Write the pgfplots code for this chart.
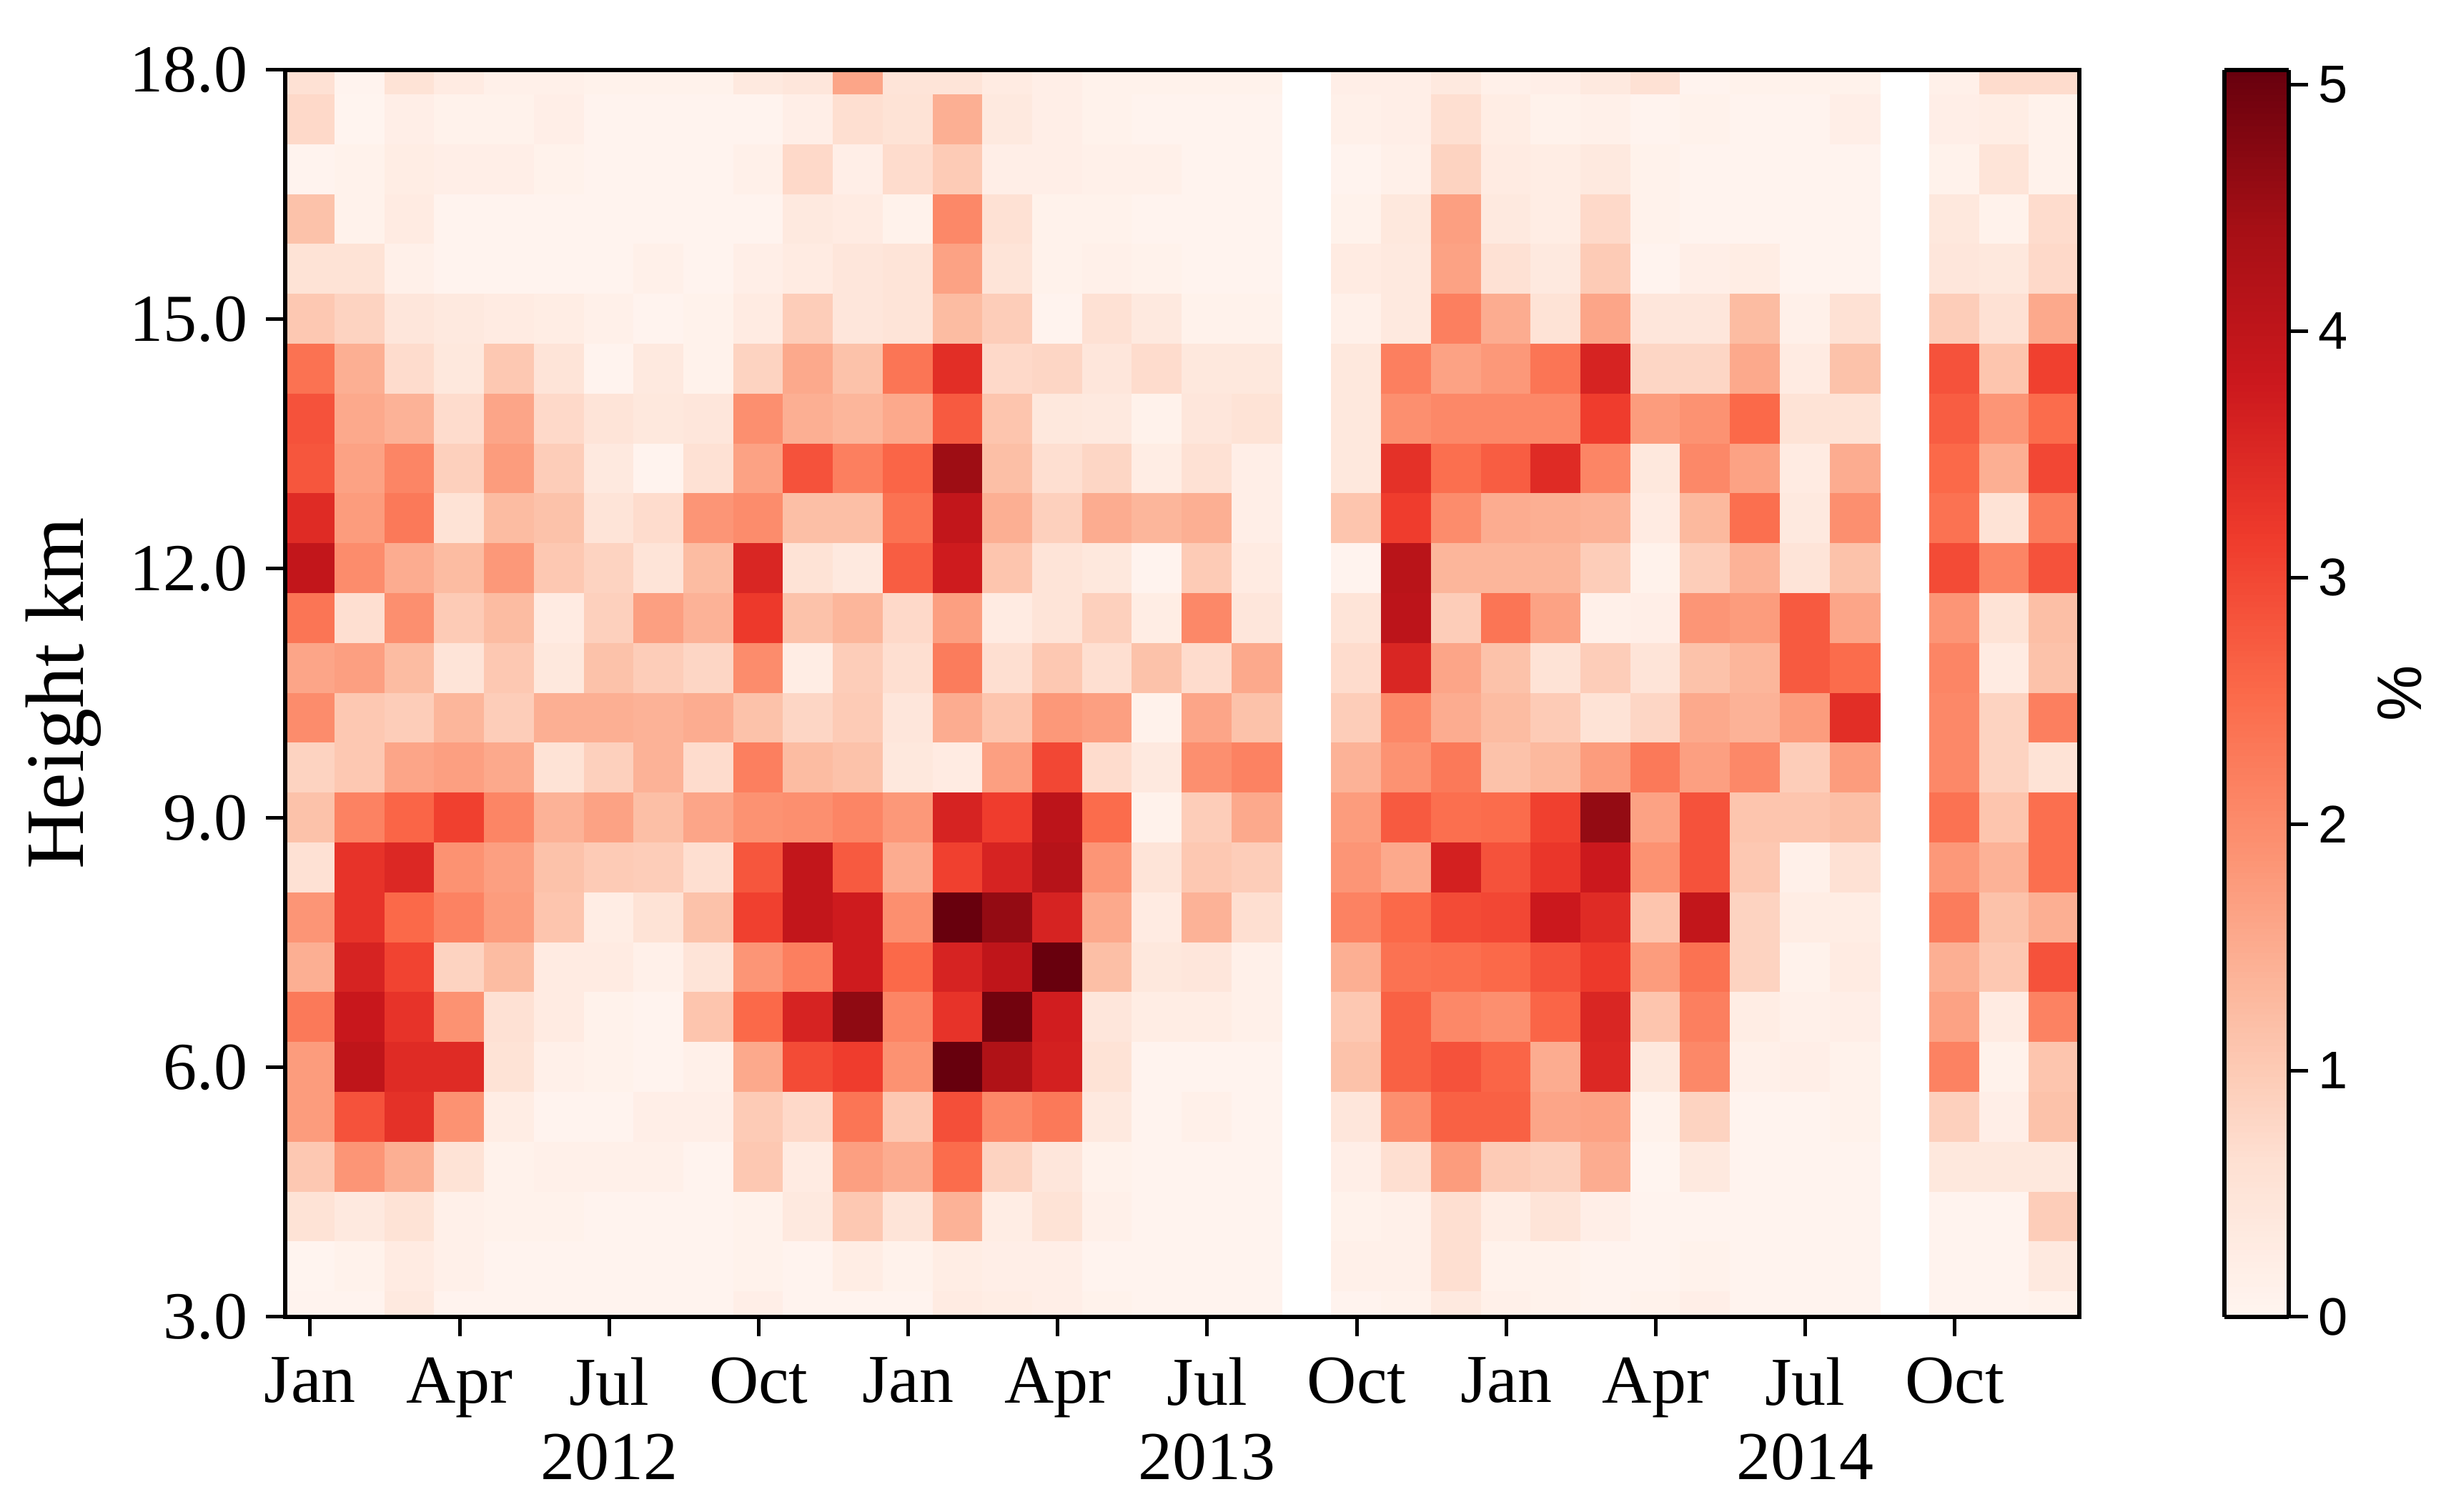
\documentclass[border=0pt]{standalone}
\usepackage{fontspec}
\usepackage{pgfplots}
\pgfplotsset{compat=1.18}
\setmainfont{Liberation Serif}
\newfontfamily\sansf{Liberation Sans}
\begin{document}
\begin{tikzpicture}
\useasboundingbox (-99.75pt,-68.25pt) rectangle (755.75pt,460.75pt);
\begin{axis}[
  at={(0pt,0pt)},anchor=south west,
  scale only axis,width=627.5pt,height=436.25pt,
  xmin=-0.5,xmax=35.5,ymin=3,ymax=18,
  axis on top,axis line style={line width=1.4pt,black},
  tick align=outside,xtick pos=bottom,ytick pos=left,
  major tick length=6.7pt,tick style={line width=1.25pt,black},
  xtick={0,3,...,33},
  xticklabels={Jan,Apr,{Jul\\2012},Oct,Jan,Apr,{Jul\\2013},Oct,Jan,Apr,{Jul\\2014},Oct},
  xticklabel style={font=\fontsize{24}{26}\selectfont,align=center,anchor=north,yshift=-4pt},
  ytick={3,6,...,18},
  yticklabel style={font=\fontsize{23.5}{27}\selectfont,xshift=-3pt,
    /pgf/number format/assume math mode=true,
    /pgf/number format/fixed,/pgf/number format/fixed zerofill,/pgf/number format/precision=1},
  ylabel={Height km},
  ylabel style={font=\fontsize{29}{32}\selectfont,at={(axis description cs:-0.1235,0.5)},anchor=center},
  point meta min=0,point meta max=5.06,
  colormap={reds}{rgb255=(255,245,240) rgb255=(254,224,210) rgb255=(252,187,161) rgb255=(252,146,114) rgb255=(251,106,74) rgb255=(239,59,44) rgb255=(203,24,29) rgb255=(165,15,21) rgb255=(103,0,13)},
  colorbar sampled,
  colorbar style={
    samples=203,
    at={(1.0809,1)},anchor=north west,width=22.5pt,
    ytick={0,1,2,3,4,5},
    tick align=outside,ytick pos=right,yticklabel pos=right,
    axis line style={line width=1.4pt,black},
    tick style={line width=1.25pt,black},major tick length=6.7pt,
    yticklabel style={font=\sansf\fontsize{18.5}{20}\selectfont,/pgf/number format/assume math mode=true},
    ylabel={\sansf\fontsize{22}{24}\selectfont\%},
    ylabel style={at={(axis description cs:2.72,0.5)},anchor=center},
  },
]
\addplot[matrix plot*,mesh/cols=20,point meta=explicit] coordinates {
(0,18)[.6] (1,18)[.05] (2,18)[.55] (3,18)[.3] (4,18)[.15] (5,18)[.15] (6,18)[.1] (7,18)[.1] (8,18)[.1] (9,18)[.35] (10,18)[.45] (11,18)[1.6] (12,18)[.5] (13,18)[.5] (14,18)[.3] (15,18)[.2] (16,18)[.1] (17,18)[.1] (18,18)[.1] (19,18)[.1]
(0,17.4)[.75] (1,17.4)[.03] (2,17.4)[.2] (3,17.4)[.1] (4,17.4)[.1] (5,17.4)[.2] (6,17.4)[.05] (7,17.4)[.05] (8,17.4)[.05] (9,17.4)[.05] (10,17.4)[.2] (11,17.4)[.65] (12,17.4)[.55] (13,17.4)[1.45] (14,17.4)[.35] (15,17.4)[.2] (16,17.4)[.1] (17,17.4)[.05] (18,17.4)[.05] (19,17.4)[.05]
(0,16.8)[.05] (1,16.8)[.1] (2,16.8)[.25] (3,16.8)[.2] (4,16.8)[.2] (5,16.8)[.1] (6,16.8)[.05] (7,16.8)[.05] (8,16.8)[.05] (9,16.8)[.15] (10,16.8)[.75] (11,16.8)[.2] (12,16.8)[.7] (13,16.8)[1] (14,16.8)[.2] (15,16.8)[.2] (16,16.8)[.15] (17,16.8)[.15] (18,16.8)[.05] (19,16.8)[.05]
(0,16.2)[1.15] (1,16.2)[.1] (2,16.2)[.3] (3,16.2)[.05] (4,16.2)[.05] (5,16.2)[.05] (6,16.2)[.05] (7,16.2)[.05] (8,16.2)[.05] (9,16.2)[.05] (10,16.2)[.35] (11,16.2)[.3] (12,16.2)[.1] (13,16.2)[2.05] (14,16.2)[.6] (15,16.2)[.1] (16,16.2)[.1] (17,16.2)[.05] (18,16.2)[.05] (19,16.2)[.05]
(0,15.6)[.55] (1,15.6)[.55] (2,15.6)[.15] (3,15.6)[.05] (4,15.6)[.05] (5,15.6)[.05] (6,15.6)[.05] (7,15.6)[.15] (8,15.6)[.05] (9,15.6)[.2] (10,15.6)[.3] (11,15.6)[.45] (12,15.6)[.5] (13,15.6)[1.65] (14,15.6)[.5] (15,15.6)[.1] (16,15.6)[.15] (17,15.6)[.1] (18,15.6)[.05] (19,15.6)[.05]
(0,15)[1.05] (1,15)[.85] (2,15)[.45] (3,15)[.35] (4,15)[.3] (5,15)[.25] (6,15)[.15] (7,15)[.05] (8,15)[.1] (9,15)[.3] (10,15)[.95] (11,15)[.45] (12,15)[.5] (13,15)[1.25] (14,15)[.95] (15,15)[.05] (16,15)[.6] (17,15)[.35] (18,15)[.1] (19,15)[.1]
(0,14.4)[2.4] (1,14.4)[1.45] (2,14.4)[.7] (3,14.4)[.4] (4,14.4)[1.05] (5,14.4)[.5] (6,14.4)[.05] (7,14.4)[.35] (8,14.4)[.1] (9,14.4)[.85] (10,14.4)[1.55] (11,14.4)[1.15] (12,14.4)[2.35] (13,14.4)[3.4] (14,14.4)[.75] (15,14.4)[.8] (16,14.4)[.45] (17,14.4)[.7] (18,14.4)[.4] (19,14.4)[.4]
(0,13.8)[2.85] (1,13.8)[1.55] (2,13.8)[1.4] (3,13.8)[.7] (4,13.8)[1.6] (5,13.8)[.75] (6,13.8)[.5] (7,13.8)[.4] (8,13.8)[.45] (9,13.8)[1.95] (10,13.8)[1.45] (11,13.8)[1.35] (12,13.8)[1.55] (13,13.8)[2.75] (14,13.8)[1.1] (15,13.8)[.4] (16,13.8)[.35] (17,13.8)[.1] (18,13.8)[.45] (19,13.8)[.55]
(0,13.2)[2.8] (1,13.2)[1.65] (2,13.2)[2.1] (3,13.2)[.9] (4,13.2)[1.75] (5,13.2)[.95] (6,13.2)[.35] (7,13.2)[.05] (8,13.2)[.6] (9,13.2)[1.65] (10,13.2)[2.85] (11,13.2)[2.2] (12,13.2)[2.6] (13,13.2)[4.5] (14,13.2)[1.2] (15,13.2)[.65] (16,13.2)[.8] (17,13.2)[.25] (18,13.2)[.6] (19,13.2)[.2]
(0,12.6)[3.45] (1,12.6)[1.75] (2,12.6)[2.3] (3,12.6)[.55] (4,12.6)[1.25] (5,12.6)[1.15] (6,12.6)[.5] (7,12.6)[.7] (8,12.6)[1.85] (9,12.6)[2] (10,12.6)[1.2] (11,12.6)[1.2] (12,12.6)[2.4] (13,12.6)[3.95] (14,12.6)[1.45] (15,12.6)[.9] (16,12.6)[1.5] (17,12.6)[1.35] (18,12.6)[1.45] (19,12.6)[.2]
(0,12)[3.95] (1,12)[2] (2,12)[1.5] (3,12)[1.25] (4,12)[1.8] (5,12)[1.05] (6,12)[.85] (7,12)[.5] (8,12)[1.25] (9,12)[3.55] (10,12)[.55] (11,12)[.35] (12,12)[2.7] (13,12)[3.75] (14,12)[1.1] (15,12)[.5] (16,12)[.4] (17,12)[.05] (18,12)[1] (19,12)[.3]
(0,11.4)[2.35] (1,11.4)[.65] (2,11.4)[1.95] (3,11.4)[1] (4,11.4)[1.25] (5,11.4)[.3] (6,11.4)[.9] (7,11.4)[1.7] (8,11.4)[1.4] (9,11.4)[3.2] (10,11.4)[1.15] (11,11.4)[1.35] (12,11.4)[.75] (13,11.4)[1.7] (14,11.4)[.3] (15,11.4)[.5] (16,11.4)[.9] (17,11.4)[.25] (18,11.4)[2.05] (19,11.4)[.45]
(0,10.8)[1.6] (1,10.8)[1.7] (2,10.8)[1.25] (3,10.8)[.5] (4,10.8)[1.05] (5,10.8)[.4] (6,10.8)[1.15] (7,10.8)[.95] (8,10.8)[.8] (9,10.8)[2] (10,10.8)[.25] (11,10.8)[.95] (12,10.8)[.65] (13,10.8)[2.25] (14,10.8)[.65] (15,10.8)[1.05] (16,10.8)[.65] (17,10.8)[1.15] (18,10.8)[.7] (19,10.8)[1.55]
(0,10.2)[2] (1,10.2)[1.05] (2,10.2)[.95] (3,10.2)[1.35] (4,10.2)[.95] (5,10.2)[1.45] (6,10.2)[1.45] (7,10.2)[1.4] (8,10.2)[1.5] (9,10.2)[1.15] (10,10.2)[.8] (11,10.2)[1] (12,10.2)[.45] (13,10.2)[1.5] (14,10.2)[1.1] (15,10.2)[1.8] (16,10.2)[1.7] (17,10.2)[.1] (18,10.2)[1.6] (19,10.2)[1.15]
(0,9.6)[.85] (1,9.6)[1.05] (2,9.6)[1.6] (3,9.6)[1.7] (4,9.6)[1.55] (5,9.6)[.55] (6,9.6)[.9] (7,9.6)[1.4] (8,9.6)[.7] (9,9.6)[2.2] (10,9.6)[1.25] (11,9.6)[1.15] (12,9.6)[.4] (13,9.6)[.3] (14,9.6)[1.7] (15,9.6)[3] (16,9.6)[.7] (17,9.6)[.35] (18,9.6)[1.95] (19,9.6)[2.15]
(0,9)[1.15] (1,9)[2.15] (2,9)[2.6] (3,9)[3.1] (4,9)[2.1] (5,9)[1.4] (6,9)[1.65] (7,9)[1.2] (8,9)[1.6] (9,9)[1.9] (10,9)[1.95] (11,9)[2.1] (12,9)[1.8] (13,9)[3.6] (14,9)[3.15] (15,9)[4.05] (16,9)[2.5] (17,9)[.1] (18,9)[.95] (19,9)[1.55]
(0,8.4)[.6] (1,8.4)[3.3] (2,8.4)[3.5] (3,8.4)[1.9] (4,8.4)[1.7] (5,8.4)[1.15] (6,8.4)[1] (7,8.4)[.95] (8,8.4)[.65] (9,8.4)[2.8] (10,8.4)[3.95] (11,8.4)[2.75] (12,8.4)[1.5] (13,8.4)[3.1] (14,8.4)[3.6] (15,8.4)[4.15] (16,8.4)[1.85] (17,8.4)[.5] (18,8.4)[1.05] (19,8.4)[.95]
(0,7.8)[1.85] (1,7.8)[3.3] (2,7.8)[2.55] (3,7.8)[2.15] (4,7.8)[1.75] (5,7.8)[1.1] (6,7.8)[.25] (7,7.8)[.55] (8,7.8)[1.15] (9,7.8)[3.1] (10,7.8)[3.95] (11,7.8)[3.75] (12,7.8)[1.95] (13,7.8)[5.05] (14,7.8)[4.6] (15,7.8)[3.6] (16,7.8)[1.55] (17,7.8)[.3] (18,7.8)[1.4] (19,7.8)[.65]
(0,7.2)[1.45] (1,7.2)[3.6] (2,7.2)[3.05] (3,7.2)[.85] (4,7.2)[1.25] (5,7.2)[.3] (6,7.2)[.3] (7,7.2)[.15] (8,7.2)[.5] (9,7.2)[1.85] (10,7.2)[2.2] (11,7.2)[3.75] (12,7.2)[2.55] (13,7.2)[3.6] (14,7.2)[4] (15,7.2)[5.05] (16,7.2)[1.2] (17,7.2)[.4] (18,7.2)[.45] (19,7.2)[.15]
(0,6.6)[2.3] (1,6.6)[3.85] (2,6.6)[3.3] (3,6.6)[1.9] (4,6.6)[.6] (5,6.6)[.3] (6,6.6)[.1] (7,6.6)[.05] (8,6.6)[1.1] (9,6.6)[2.55] (10,6.6)[3.6] (11,6.6)[4.65] (12,6.6)[2.1] (13,6.6)[3.3] (14,6.6)[4.95] (15,6.6)[3.7] (16,6.6)[.45] (17,6.6)[.25] (18,6.6)[.25] (19,6.6)[.15]
(0,6)[1.75] (1,6)[4] (2,6)[3.45] (3,6)[3.45] (4,6)[.55] (5,6)[.15] (6,6)[.1] (7,6)[.05] (8,6)[.15] (9,6)[1.55] (10,6)[2.95] (11,6)[3.15] (12,6)[1.9] (13,6)[5.1] (14,6)[4.25] (15,6)[3.65] (16,6)[.55] (17,6)[.05] (18,6)[.05] (19,6)[.05]
(0,5.4)[1.75] (1,5.4)[2.85] (2,5.4)[3.35] (3,5.4)[1.9] (4,5.4)[.25] (5,5.4)[.05] (6,5.4)[.05] (7,5.4)[.2] (8,5.4)[.2] (9,5.4)[1] (10,5.4)[.75] (11,5.4)[2.35] (12,5.4)[1.05] (13,5.4)[2.9] (14,5.4)[2.05] (15,5.4)[2.3] (16,5.4)[.35] (17,5.4)[.05] (18,5.4)[.15] (19,5.4)[.05]
(0,4.8)[1.05] (1,4.8)[1.85] (2,4.8)[1.45] (3,4.8)[.55] (4,4.8)[.1] (5,4.8)[.15] (6,4.8)[.15] (7,4.8)[.15] (8,4.8)[.05] (9,4.8)[1.05] (10,4.8)[.3] (11,4.8)[1.7] (12,4.8)[1.5] (13,4.8)[2.5] (14,4.8)[.85] (15,4.8)[.45] (16,4.8)[.1] (17,4.8)[.05] (18,4.8)[.05] (19,4.8)[.05]
(0,4.2)[.55] (1,4.2)[.35] (2,4.2)[.55] (3,4.2)[.15] (4,4.2)[.1] (5,4.2)[.1] (6,4.2)[.05] (7,4.2)[.05] (8,4.2)[.05] (9,4.2)[.1] (10,4.2)[.35] (11,4.2)[1.05] (12,4.2)[.5] (13,4.2)[1.4] (14,4.2)[.25] (15,4.2)[.55] (16,4.2)[.15] (17,4.2)[.05] (18,4.2)[.05] (19,4.2)[.05]
(0,3.6)[.03] (1,3.6)[.1] (2,3.6)[.3] (3,3.6)[.15] (4,3.6)[.05] (5,3.6)[.05] (6,3.6)[.05] (7,3.6)[.05] (8,3.6)[.05] (9,3.6)[.1] (10,3.6)[.05] (11,3.6)[.25] (12,3.6)[.1] (13,3.6)[.25] (14,3.6)[.2] (15,3.6)[.2] (16,3.6)[.05] (17,3.6)[.05] (18,3.6)[.05] (19,3.6)[.05]
(0,3)[.05] (1,3)[.05] (2,3)[.35] (3,3)[.05] (4,3)[.05] (5,3)[.05] (6,3)[.05] (7,3)[.05] (8,3)[.05] (9,3)[.2] (10,3)[.05] (11,3)[.05] (12,3)[.05] (13,3)[.3] (14,3)[.25] (15,3)[.2] (16,3)[.1] (17,3)[.05] (18,3)[.05] (19,3)[.05]
};
\addplot[matrix plot*,mesh/cols=11,point meta=explicit] coordinates {
(21,18)[.2] (22,18)[.2] (23,18)[.35] (24,18)[.15] (25,18)[.2] (26,18)[.35] (27,18)[.6] (28,18)[.05] (29,18)[.1] (30,18)[.1] (31,18)[.1]
(21,17.4)[.15] (22,17.4)[.2] (23,17.4)[.65] (24,17.4)[.25] (25,17.4)[.1] (26,17.4)[.15] (27,17.4)[.05] (28,17.4)[.1] (29,17.4)[.05] (30,17.4)[.05] (31,17.4)[.2]
(21,16.8)[.05] (22,16.8)[.15] (23,16.8)[.85] (24,16.8)[.3] (25,16.8)[.25] (26,16.8)[.35] (27,16.8)[.1] (28,16.8)[.05] (29,16.8)[.05] (30,16.8)[.05] (31,16.8)[.05]
(21,16.2)[.1] (22,16.2)[.4] (23,16.2)[1.7] (24,16.2)[.35] (25,16.2)[.25] (26,16.2)[.75] (27,16.2)[.1] (28,16.2)[.05] (29,16.2)[.05] (30,16.2)[.05] (31,16.2)[.05]
(21,15.6)[.3] (22,15.6)[.35] (23,15.6)[1.65] (24,15.6)[.6] (25,15.6)[.35] (26,15.6)[1] (27,15.6)[.05] (28,15.6)[.2] (29,15.6)[.25] (30,15.6)[.05] (31,15.6)[.05]
(21,15)[.15] (22,15)[.35] (23,15)[2.2] (24,15)[1.5] (25,15)[.55] (26,15)[1.6] (27,15)[.45] (28,15)[.45] (29,15)[1.25] (30,15)[.15] (31,15)[.6]
(21,14.4)[.4] (22,14.4)[2.2] (23,14.4)[1.65] (24,14.4)[1.8] (25,14.4)[2.35] (26,14.4)[3.6] (27,14.4)[.8] (28,14.4)[.8] (29,14.4)[1.55] (30,14.4)[.3] (31,14.4)[1.15]
(21,13.8)[.4] (22,13.8)[1.95] (23,13.8)[2.05] (24,13.8)[2.05] (25,13.8)[2.05] (26,13.8)[3.15] (27,13.8)[1.75] (28,13.8)[1.9] (29,13.8)[2.55] (30,13.8)[.55] (31,13.8)[.55]
(21,13.2)[.4] (22,13.2)[3.35] (23,13.2)[2.45] (24,13.2)[2.7] (25,13.2)[3.45] (26,13.2)[2.1] (27,13.2)[.4] (28,13.2)[2.05] (29,13.2)[1.65] (30,13.2)[.3] (31,13.2)[1.5]
(21,12.6)[1.1] (22,12.6)[3.15] (23,12.6)[2] (24,12.6)[1.5] (25,12.6)[1.45] (26,12.6)[1.4] (27,12.6)[.3] (28,12.6)[1.3] (29,12.6)[2.45] (30,12.6)[.35] (31,12.6)[1.95]
(21,12)[.05] (22,12)[4.1] (23,12)[1.35] (24,12)[1.35] (25,12)[1.35] (26,12)[.95] (27,12)[.1] (28,12)[.95] (29,12)[1.4] (30,12)[.5] (31,12)[1.15]
(21,11.4)[.5] (22,11.4)[4.05] (23,11.4)[.95] (24,11.4)[2.35] (25,11.4)[1.65] (26,11.4)[.15] (27,11.4)[.2] (28,11.4)[1.85] (29,11.4)[1.75] (30,11.4)[2.75] (31,11.4)[1.6]
(21,10.8)[.7] (22,10.8)[3.55] (23,10.8)[1.6] (24,10.8)[1.15] (25,10.8)[.55] (26,10.8)[.95] (27,10.8)[.5] (28,10.8)[1.15] (29,10.8)[1.35] (30,10.8)[2.75] (31,10.8)[2.5]
(21,10.2)[.95] (22,10.2)[2.05] (23,10.2)[1.5] (24,10.2)[1.25] (25,10.2)[1] (26,10.2)[.55] (27,10.2)[.8] (28,10.2)[1.55] (29,10.2)[1.4] (30,10.2)[1.75] (31,10.2)[3.4]
(21,9.6)[1.4] (22,9.6)[1.9] (23,9.6)[2.3] (24,9.6)[1.15] (25,9.6)[1.3] (26,9.6)[1.75] (27,9.6)[2.3] (28,9.6)[1.7] (29,9.6)[2.05] (30,9.6)[.95] (31,9.6)[1.75]
(21,9)[1.75] (22,9)[2.75] (23,9)[2.45] (24,9)[2.5] (25,9)[3.1] (26,9)[4.6] (27,9)[1.65] (28,9)[2.85] (29,9)[1.1] (30,9)[1.1] (31,9)[1.2]
(21,8.4)[1.85] (22,8.4)[1.55] (23,8.4)[3.65] (24,8.4)[2.85] (25,8.4)[3.25] (26,8.4)[3.8] (27,8.4)[1.9] (28,8.4)[2.85] (29,8.4)[1.05] (30,8.4)[.15] (31,8.4)[.6]
(21,7.8)[2.15] (22,7.8)[2.55] (23,7.8)[2.95] (24,7.8)[3] (25,7.8)[3.8] (26,7.8)[3.45] (27,7.8)[1.1] (28,7.8)[3.95] (29,7.8)[.85] (30,7.8)[.25] (31,7.8)[.25]
(21,7.2)[1.45] (22,7.2)[2.4] (23,7.2)[2.45] (24,7.2)[2.55] (25,7.2)[2.85] (26,7.2)[3.2] (27,7.2)[1.75] (28,7.2)[2.4] (29,7.2)[.85] (30,7.2)[.1] (31,7.2)[.3]
(21,6.6)[1.05] (22,6.6)[2.65] (23,6.6)[2.05] (24,6.6)[1.95] (25,6.6)[2.6] (26,6.6)[3.55] (27,6.6)[1.1] (28,6.6)[2.2] (29,6.6)[.25] (30,6.6)[.15] (31,6.6)[.2]
(21,6)[1.15] (22,6)[2.65] (23,6)[2.85] (24,6)[2.6] (25,6)[1.5] (26,6)[3.5] (27,6)[.4] (28,6)[2.05] (29,6)[.15] (30,6)[.2] (31,6)[.1]
(21,5.4)[.45] (22,5.4)[1.95] (23,5.4)[2.65] (24,5.4)[2.65] (25,5.4)[1.6] (26,5.4)[1.65] (27,5.4)[.1] (28,5.4)[.85] (29,5.4)[.05] (30,5.4)[.05] (31,5.4)[.1]
(21,4.8)[.2] (22,4.8)[.65] (23,4.8)[1.75] (24,4.8)[1] (25,4.8)[.9] (26,4.8)[1.5] (27,4.8)[.03] (28,4.8)[.35] (29,4.8)[.05] (30,4.8)[.05] (31,4.8)[.05]
(21,4.2)[.1] (22,4.2)[.15] (23,4.2)[.65] (24,4.2)[.25] (25,4.2)[.5] (26,4.2)[.2] (27,4.2)[.05] (28,4.2)[.05] (29,4.2)[.05] (30,4.2)[.05] (31,4.2)[.05]
(21,3.6)[.15] (22,3.6)[.15] (23,3.6)[.65] (24,3.6)[.1] (25,3.6)[.1] (26,3.6)[.05] (27,3.6)[.05] (28,3.6)[.1] (29,3.6)[.05] (30,3.6)[.05] (31,3.6)[.05]
(21,3)[.05] (22,3)[.1] (23,3)[.35] (24,3)[.15] (25,3)[.1] (26,3)[.05] (27,3)[.1] (28,3)[.2] (29,3)[.05] (30,3)[.05] (31,3)[.05]
};
\addplot[matrix plot*,mesh/cols=3,point meta=explicit] coordinates {
(33,18)[.15] (34,18)[.7] (35,18)[.7]
(33,17.4)[.2] (34,17.4)[.25] (35,17.4)[.1]
(33,16.8)[.1] (34,16.8)[.5] (35,16.8)[.1]
(33,16.2)[.4] (34,16.2)[.1] (35,16.2)[.7]
(33,15.6)[.45] (34,15.6)[.4] (35,15.6)[.75]
(33,15)[.95] (34,15)[.6] (35,15)[1.55]
(33,14.4)[2.85] (34,14.4)[1.1] (35,14.4)[3.1]
(33,13.8)[2.7] (34,13.8)[1.85] (35,13.8)[2.5]
(33,13.2)[2.55] (34,13.2)[1.45] (35,13.2)[3]
(33,12.6)[2.4] (34,12.6)[.55] (35,12.6)[2.25]
(33,12)[2.95] (34,12)[2.1] (35,12)[2.85]
(33,11.4)[1.85] (34,11.4)[.55] (35,11.4)[1.2]
(33,10.8)[2.1] (34,10.8)[.3] (35,10.8)[1.15]
(33,10.2)[2.05] (34,10.2)[.85] (35,10.2)[2.2]
(33,9.6)[2.05] (34,9.6)[.85] (35,9.6)[.55]
(33,9)[2.4] (34,9)[1.1] (35,9)[2.45]
(33,8.4)[1.8] (34,8.4)[1.4] (35,8.4)[2.45]
(33,7.8)[2.25] (34,7.8)[1.15] (35,7.8)[1.45]
(33,7.2)[1.45] (34,7.2)[1.05] (35,7.2)[2.85]
(33,6.6)[1.65] (34,6.6)[.3] (35,6.6)[2.15]
(33,6)[2.15] (34,6)[.1] (35,6)[1.1]
(33,5.4)[.9] (34,5.4)[.2] (35,5.4)[1.15]
(33,4.8)[.4] (34,4.8)[.4] (35,4.8)[.4]
(33,4.2)[.05] (34,4.2)[.05] (35,4.2)[.95]
(33,3.6)[.05] (34,3.6)[.05] (35,3.6)[.35]
(33,3)[.05] (34,3)[.05] (35,3)[.1]
};
\end{axis}
\end{tikzpicture}
\end{document}
